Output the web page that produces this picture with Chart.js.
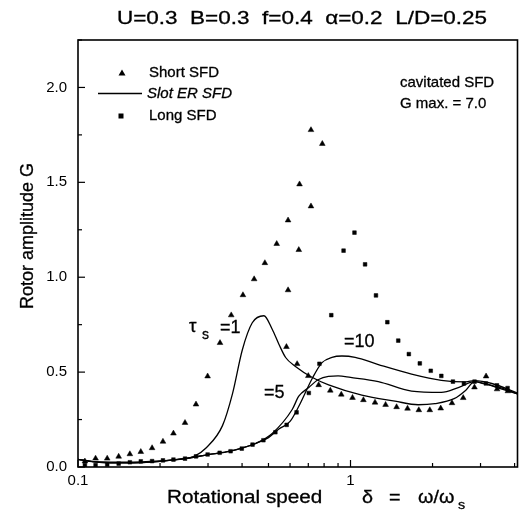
<!DOCTYPE html>
<html><head><meta charset="utf-8">
<script src="https://cdn.jsdelivr.net/npm/chart.js@4/dist/chart.umd.min.js"></script>
<style>html,body{margin:0;padding:0;background:#fff}</style>
</head><body>
<canvas id="c" width="522" height="519"></canvas>
<script>
// ---- data ----
const shortX = [0.106,0.116,0.128,0.141,0.155,0.170,0.187,0.205,0.224,0.247,0.271,0.299,0.332,0.365,0.403,0.443,0.485,0.536,0.590,0.650,0.716,0.788,
                0.590,0.646,0.716,
                0.582,0.637,0.700,0.764,0.843,0.925,1.017,1.115,1.23,1.345,1.476,1.619,1.781,1.954,2.143,2.357,2.592,2.85,3.144,3.45,3.78];
const shortY = [0.03,0.045,0.045,0.055,0.068,0.08,0.10,0.134,0.177,0.233,0.33,0.478,0.654,0.80,0.906,0.99,1.075,1.176,1.30,1.49,1.776,1.703,
                0.932,1.144,1.374,
                0.633,0.543,0.48,0.432,0.403,0.382,0.365,0.353,0.34,0.328,0.316,0.308,0.30,0.30,0.309,0.337,0.364,0.42,0.478,0.41,0.40];

const longX = [0.106,0.116,0.128,0.141,0.155,0.170,0.187,0.205,0.224,0.247,0.271,0.299,0.331,0.363,0.399,0.437,0.479,0.530,0.583,0.634,0.703,0.769,0.850,0.943,1.034,1.131,1.24,1.365,1.497,1.637,1.796,1.97,2.154,2.376,2.607,2.852,3.14,3.447,3.77];
const longY = [0.01,0.01,0.012,0.018,0.025,0.03,0.031,0.035,0.039,0.044,0.056,0.066,0.075,0.083,0.097,0.118,0.141,0.183,0.222,0.288,0.39,0.544,0.80,1.14,1.235,1.068,0.904,0.763,0.666,0.595,0.546,0.507,0.48,0.45,0.44,0.45,0.44,0.43,0.416];

const slot1X = [0.1,0.12,0.15,0.2,0.25,0.267,0.295,0.339,0.369,0.401,0.436,0.481,0.516,0.546,0.578,0.628,0.722,0.831,1.1,1.456,1.77,2.04,2.4,2.65,2.85,3.07,3.6,4.1];
const slot1Y = [0.04,0.025,0.025,0.032,0.045,0.056,0.10,0.218,0.387,0.618,0.76,0.797,0.726,0.647,0.577,0.53,0.473,0.433,0.379,0.347,0.328,0.334,0.36,0.405,0.45,0.44,0.415,0.385];

const slot5X = [0.1,0.12,0.15,0.2,0.25,0.3,0.35,0.4,0.45,0.516,0.611,0.646,0.703,0.76,0.83,0.9,1.0,1.265,1.675,2.154,2.5,2.85,3.1,3.6,4.1];
const slot5Y = [0.04,0.025,0.022,0.03,0.045,0.065,0.08,0.1,0.125,0.177,0.303,0.373,0.419,0.46,0.478,0.48,0.472,0.45,0.40,0.393,0.42,0.45,0.44,0.41,0.385];

const slot10X = [0.1,0.12,0.15,0.2,0.25,0.3,0.35,0.4,0.45,0.5,0.546,0.6,0.646,0.722,0.786,0.855,0.93,1.04,1.265,1.675,2.154,2.65,2.85,3.3,4.1];
const slot10Y = [0.04,0.025,0.022,0.03,0.045,0.065,0.08,0.1,0.125,0.155,0.2,0.24,0.32,0.464,0.55,0.578,0.585,0.578,0.54,0.49,0.457,0.449,0.455,0.44,0.39];

const xTickLabels = [0.1, 1];
const xMinorTicks = [0.2,0.3,0.4,0.5,0.6,0.7,0.8,0.9,2,3,4];
const yTickLabels = [0, 0.5, 1.0, 1.5, 2.0];
const yMinorTicks = [0.25, 0.75, 1.25, 1.75, 2.25];
const xRange = [0.1, 4.1];
const yRange = [0, 2.25];

const pairs = (xs, ys) => xs.map((x, i) => ({x, y: ys[i]}));

const FONT = '"Liberation Sans", Arial, sans-serif';

function txt(ctx, s, x, y, size, opts = {}) {
  ctx.save();
  ctx.font = (opts.style || '') + ' ' + size + 'px ' + FONT;
  ctx.fillStyle = '#000';
  ctx.strokeStyle = '#000';
  ctx.lineWidth = opts.lw == null ? 0.3 : opts.lw;
  ctx.textBaseline = 'middle';
  ctx.textAlign = opts.align || 'left';
  ctx.translate(x, y);
  if (opts.rot) ctx.rotate(opts.rot);
  ctx.scale(opts.sx || 1, 1);
  ctx.fillText(s, 0, 0);
  if (ctx.lineWidth > 0) ctx.strokeText(s, 0, 0);
  ctx.restore();
}

const framePlugin = {
  id: 'frame',
  afterDatasetsDraw(chart) {
    const {ctx, chartArea: a, scales: {x, y}} = chart;
    ctx.save();
    ctx.strokeStyle = '#000';
    ctx.lineWidth = 1.6;
    ctx.strokeRect(a.left, a.top, a.right - a.left, a.bottom - a.top);
    ctx.lineWidth = 1.2;
    const seg = (x1, y1, x2, y2) => { ctx.beginPath(); ctx.moveTo(x1, y1); ctx.lineTo(x2, y2); ctx.stroke(); };
    xTickLabels.forEach(v => { const p = x.getPixelForValue(v); seg(p, a.bottom, p, a.bottom - 7); });
    xMinorTicks.forEach(v => { const p = x.getPixelForValue(v); seg(p, a.bottom, p, a.bottom - 4); });
    yTickLabels.forEach(v => { const p = y.getPixelForValue(v); seg(a.left, p, a.left + 7, p); });
    yMinorTicks.forEach(v => { const p = y.getPixelForValue(v); seg(a.left, p, a.left + 4, p); });
    ctx.restore();
  }
};

const textPlugin = {
  id: 'texts',
  afterDraw(chart) {
    const {ctx} = chart;
    // main title
    txt(ctx, 'U=0.3  B=0.3  f=0.4  \u03B1=0.2  L/D=0.25', 302, 19, 18, {align: 'center', sx: 1.25});
    // y axis title
    txt(ctx, 'Rotor amplitude G', 28, 236, 18, {align: 'center', rot: -Math.PI / 2});
    // x axis title
    txt(ctx, 'Rotational speed', 167, 498, 18, {sx: 1.15});
    txt(ctx, '\u03B4', 362, 498, 18, {sx: 1.1});
    txt(ctx, '=', 389, 498, 18, {sx: 1.1});
    txt(ctx, '\u03C9/\u03C9', 418, 498, 18, {sx: 1.1});
    txt(ctx, 's', 458, 505, 13, {sx: 1.1});
    // legend
    ctx.save();
    ctx.fillStyle = '#000';
    ctx.beginPath(); ctx.moveTo(122, 69.5); ctx.lineTo(125.5, 75.5); ctx.lineTo(118.5, 75.5); ctx.closePath(); ctx.fill();
    ctx.fillRect(118.5, 113.5, 5, 5);
    ctx.lineWidth = 1.4; ctx.strokeStyle = '#000';
    ctx.beginPath(); ctx.moveTo(98, 93.5); ctx.lineTo(142, 93.5); ctx.stroke();
    ctx.restore();
    txt(ctx, 'Short SFD', 149, 73, 15);
    txt(ctx, 'Slot ER SFD', 147, 94, 15, {style: 'italic'});
    txt(ctx, 'Long SFD', 149, 116, 15);
    // annotation
    txt(ctx, 'cavitated SFD', 400, 83, 15);
    txt(ctx, 'G max. = 7.0', 400, 104, 15);
    // curve labels
    txt(ctx, '\u03C4', 189, 327, 19);
    txt(ctx, 's', 202, 335, 14);
    txt(ctx, '=1', 220, 328, 18);
    txt(ctx, '=5', 264, 393, 18);
    txt(ctx, '=10', 344, 342, 18);
  }
};

const lineDs = (label, xs, ys) => ({
  label, data: pairs(xs, ys), showLine: true, pointRadius: 0, borderColor: '#000',
  borderWidth: 1.3, backgroundColor: '#000', cubicInterpolationMode: 'monotone', fill: false
});

new Chart(document.getElementById('c'), {
  type: 'scatter',
  data: {
    datasets: [
      {label: 'Short SFD', data: pairs(shortX, shortY), pointStyle: 'triangle', pointRadius: 3.3,
       backgroundColor: '#000', borderColor: '#000', borderWidth: 0.5, showLine: false},
      {label: 'Long SFD', data: pairs(longX, longY), pointStyle: 'rect', pointRadius: 2.6,
       backgroundColor: '#000', borderColor: '#000', borderWidth: 0.5, showLine: false},
      lineDs('Slot ER SFD \u03C4s=1', slot1X, slot1Y),
      lineDs('Slot ER SFD \u03C4s=5', slot5X, slot5Y),
      lineDs('Slot ER SFD \u03C4s=10', slot10X, slot10Y)
    ]
  },
  options: {
    responsive: false,
    animation: false,
    devicePixelRatio: 1,
    layout: {padding: {top: 40, right: 1, left: 0, bottom: 0}},
    plugins: {legend: {display: false}, tooltip: {enabled: false}, title: {display: false}},
    scales: {
      x: {
        type: 'logarithmic', min: xRange[0], max: xRange[1],
        grid: {display: false, drawTicks: false}, border: {display: false},
        afterBuildTicks: s => { s.ticks = xTickLabels.map(v => ({value: v})); },
        ticks: {autoSkip: false, maxRotation: 0, padding: 5, color: '#000',
                font: {family: FONT, size: 15}, callback: v => String(v)},
        afterFit: s => { s.height = 52; }
      },
      y: {
        min: yRange[0], max: yRange[1],
        grid: {display: false, drawTicks: false}, border: {display: false},
        afterBuildTicks: s => { s.ticks = yTickLabels.map(v => ({value: v})); },
        ticks: {padding: 11, color: '#000', font: {family: FONT, size: 15},
                callback: v => Number(v).toFixed(1)},
        afterFit: s => { s.width = 78; }
      }
    }
  },
  plugins: [framePlugin, textPlugin]
});
</script>
</body></html>
